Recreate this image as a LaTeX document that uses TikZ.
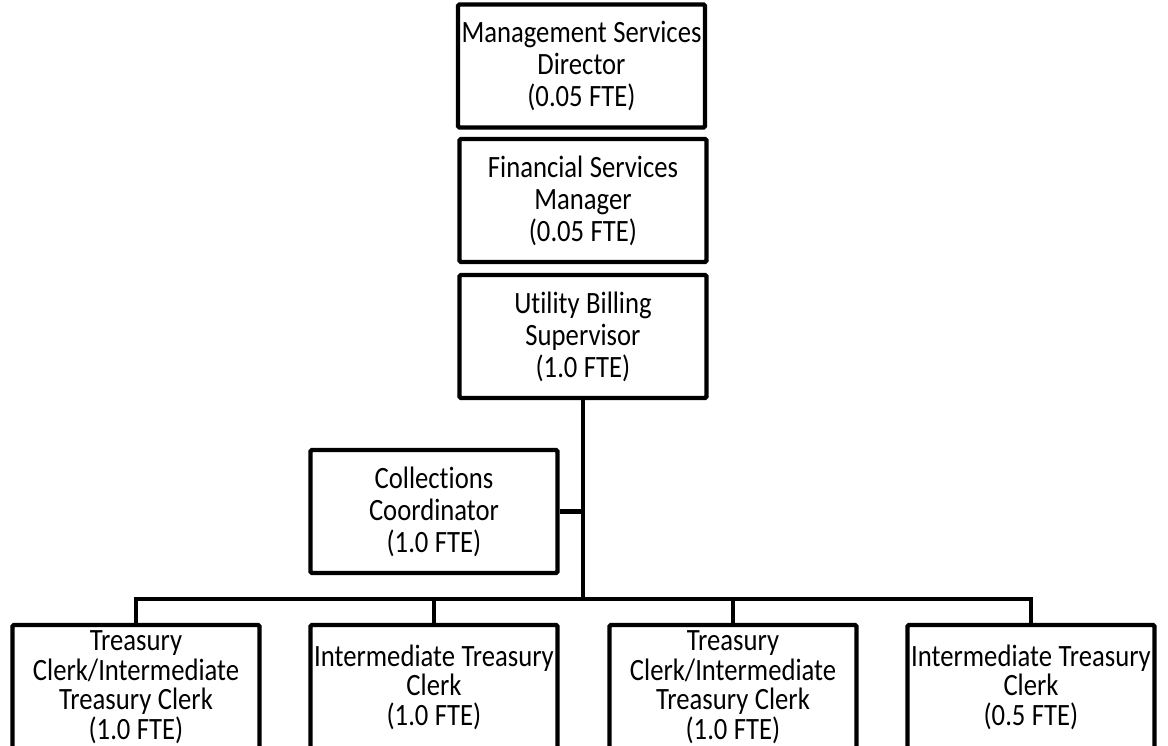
\documentclass[tikz,border=0pt]{standalone}
\usepackage{fontspec}
\setmainfont{Carlito}[Ligatures=NoCommon, FakeStretch=0.86]
\begin{document}
\begin{tikzpicture}[x=1pt,y=-1pt,
  box/.style={draw=black, line width=4.4pt, rounded corners=1.5pt, fill=white,
    inner sep=0pt, minimum width=247pt, minimum height=123pt,
    text width=247pt, align=center, font=\fontsize{31}{32}\selectfont,
    execute at begin node={\spaceskip=6.5pt\relax}},
  lowbox/.style={box, minimum height=124pt, font=\fontsize{31}{29.5}\selectfont},
  link/.style={draw=black, line width=4.8pt}]
\useasboundingbox (0,0) rectangle (1168,746);
\clip (0,0) rectangle (1168,746);
\node[box] (mgmt) at (581.5,66) {\makebox[0pt][c]{Management Services}\\Director\\(0.05 FTE)};
\node[box] (fin) at (583,200.5) {Financial Services\\Manager\\(0.05 FTE)};
\node[box] (util) at (583,336.5) {Utility Billing\\Supervisor\\(1.0 FTE)};
\node[box] (coll) at (434,511.5) {Collections\\Coordinator\\(1.0 FTE)};
\node[lowbox] (a) at (136,687) {Treasury\\Clerk/Intermediate\\Treasury Clerk\\(1.0 FTE)};
\node[lowbox] (b) at (434,687) {\makebox[0pt][c]{Intermediate Treasury}\\Clerk\\(1.0 FTE)};
\node[lowbox] (c) at (733,687) {Treasury\\Clerk/Intermediate\\Treasury Clerk\\(1.0 FTE)};
\node[lowbox] (d) at (1031,687) {\makebox[0pt][c]{Intermediate Treasury}\\Clerk\\(0.5 FTE)};
\coordinate (bus) at (583,599);
\path[link] (util.south) -- (bus);
\path[link] (coll.east) -- (coll.east -| bus);
\path[link] (a.north) |- (bus) -| (d.north);
\path[link] (b.north) -- (b.north |- bus);
\path[link] (c.north) -- (c.north |- bus);
\end{tikzpicture}
\end{document}
